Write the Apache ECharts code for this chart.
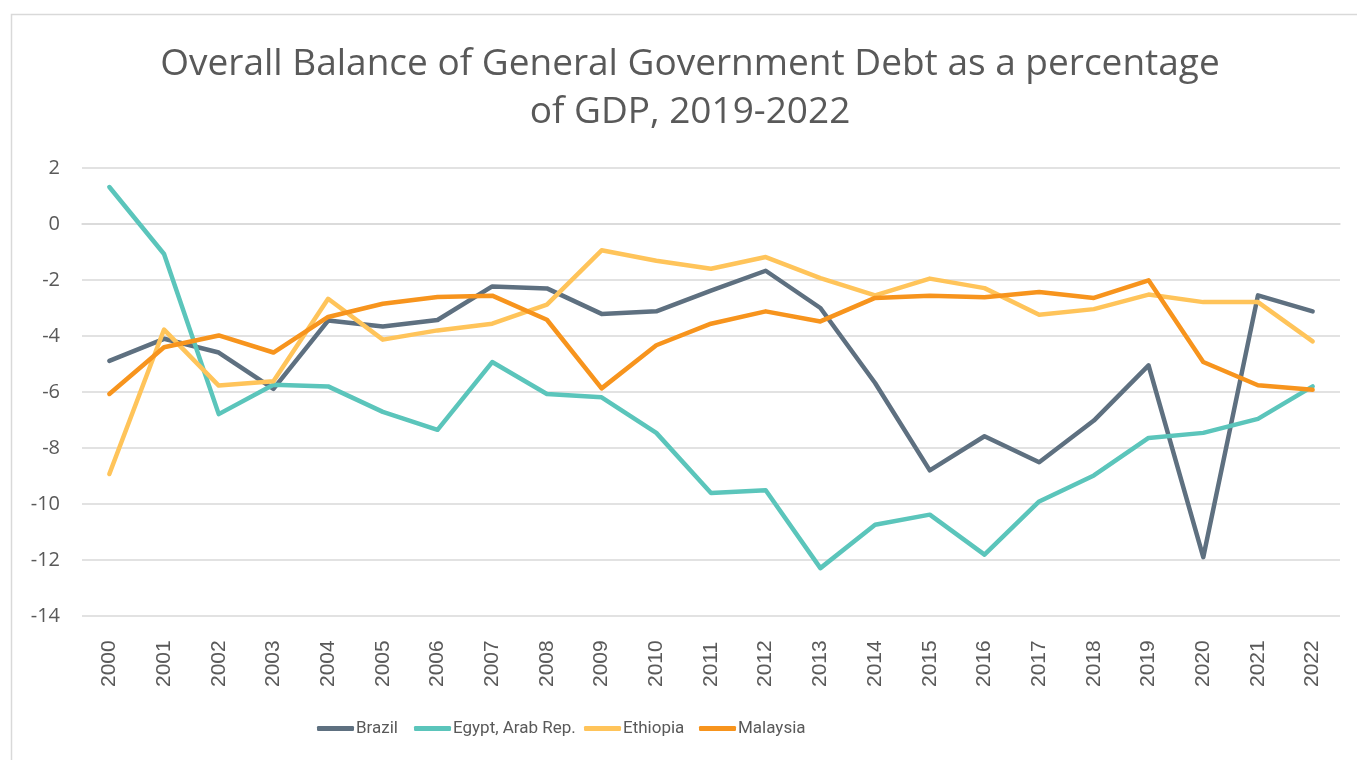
<!DOCTYPE html>
<html>
<head>
<meta charset="utf-8">
<script src="https://cdn.jsdelivr.net/npm/echarts@6/dist/echarts.min.js"></script>
<style>
html,body{margin:0;padding:0;background:#fff;}
#chart{width:1357px;height:760px;}
</style>
</head>
<body>
<div id="chart"></div>
<script>
const years = ['2000','2001','2002','2003','2004','2005','2006','2007','2008','2009','2010','2011','2012','2013','2014','2015','2016','2017','2018','2019','2020','2021','2022'];
const brazil = [-4.89,-4.1,-4.59,-5.89,-3.45,-3.66,-3.43,-2.23,-2.30,-3.21,-3.12,-2.38,-1.67,-3.0,-5.68,-8.80,-7.58,-8.51,-7.02,-5.05,-11.9,-2.55,-3.12];
const egypt = [1.32,-1.07,-6.79,-5.74,-5.80,-6.71,-7.35,-4.93,-6.07,-6.19,-7.46,-9.61,-9.51,-12.29,-10.74,-10.38,-11.81,-9.91,-8.98,-7.64,-7.46,-6.96,-5.80];
const ethiopia = [-8.93,-3.77,-5.77,-5.62,-2.67,-4.13,-3.80,-3.56,-2.88,-0.94,-1.31,-1.60,-1.18,-1.93,-2.55,-1.95,-2.29,-3.24,-3.04,-2.52,-2.79,-2.79,-4.19];
const malaysia = [-6.07,-4.40,-3.98,-4.59,-3.32,-2.85,-2.61,-2.56,-3.42,-5.87,-4.33,-3.56,-3.12,-3.48,-2.64,-2.56,-2.62,-2.43,-2.64,-2.01,-4.93,-5.76,-5.92];
const seriesNames = ['Brazil','Egypt, Arab Rep.','Ethiopia','Malaysia'];
const seriesColors = ['#5E7080','#5BC5BB','#FFC45A','#F7941D'];
const seriesData = [brazil, egypt, ethiopia, malaysia];
const yTicks = {min:-14, max:2, interval:2};
const legendLefts = [317, 414, 584, 699];

const chart = echarts.init(document.getElementById('chart'));
chart.setOption({
  backgroundColor:'#ffffff',
  animation:false,
  graphic:[{type:'rect', shape:{x:11.5,y:14.5,width:2000,height:2000}, style:{fill:'none',stroke:'#d9d9d9',lineWidth:1.5}, silent:true}],
  title:{
    text:'Overall Balance of General Government Debt as a percentage\nof GDP, 2019-2022',
    left:690, top:40, textAlign:'center', padding:0,
    textStyle:{fontFamily:'Open Sans', fontWeight:'normal', fontSize:37, lineHeight:48, color:'#595959'}
  },
  legend:seriesNames.map((n,i)=>({
    left:legendLefts[i], top:720, itemWidth:37, itemHeight:5, padding:0,
    icon:'roundRect',
    textStyle:{fontFamily:'Roboto', fontSize:17, color:'#595959', padding:[0,0,0,-3]},
    data:[{name:n, itemStyle:{color:seriesColors[i]}}]
  })),
  grid:{left:82, right:17, top:168, bottom:144, containLabel:false},
  xAxis:{
    type:'category', data:years, boundaryGap:true,
    axisLine:{show:true, lineStyle:{color:'#d9d9d9', width:1.5}},
    axisTick:{show:false},
    axisLabel:{rotate:90, align:'left', verticalAlign:'middle', margin:71, interval:0,
      fontFamily:'Liberation Sans', fontSize:21, color:'#595959'}
  },
  yAxis:{
    type:'value', min:yTicks.min, max:yTicks.max, interval:yTicks.interval,
    axisLine:{show:false}, axisTick:{show:false},
    splitLine:{lineStyle:{color:'#d9d9d9', width:1.5}},
    axisLabel:{margin:22, fontFamily:'Open Sans', fontSize:20, color:'#595959'}
  },
  series:seriesData.map((d,i)=>({
    name:seriesNames[i], type:'line', data:d, symbol:'none',
    lineStyle:{color:seriesColors[i], width:4.5, cap:'round', join:'round'},
    itemStyle:{color:seriesColors[i]}
  }))
});
</script>
</body>
</html>
